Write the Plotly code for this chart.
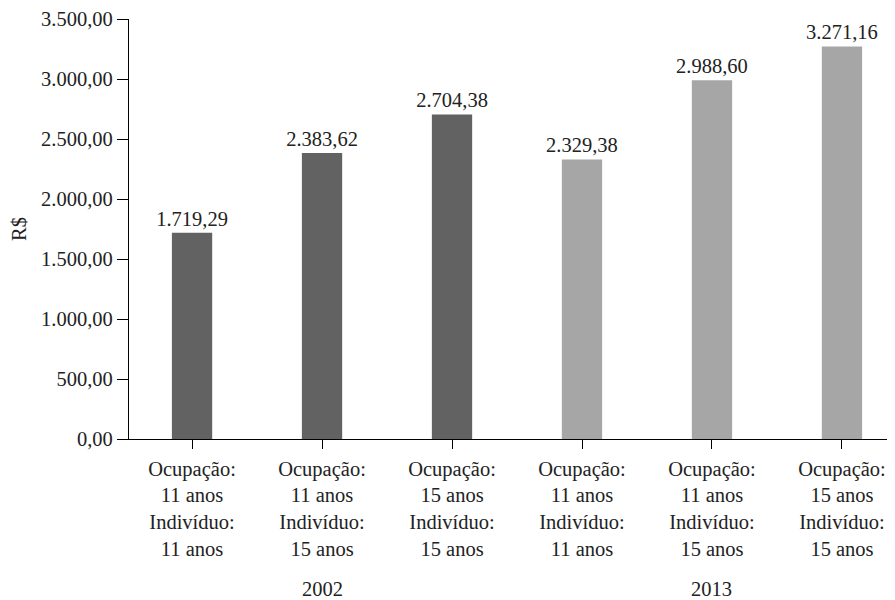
import plotly.graph_objects as go

categories = [
    "Ocupação:<br>11 anos<br>Indivíduo:<br>11 anos",
    "Ocupação:<br>11 anos<br>Indivíduo:<br>15 anos",
    "Ocupação:<br>15 anos<br>Indivíduo:<br>15 anos",
    "Ocupação:<br>11 anos<br>Indivíduo:<br>11 anos",
    "Ocupação:<br>11 anos<br>Indivíduo:<br>15 anos",
    "Ocupação:<br>15 anos<br>Indivíduo:<br>15 anos",
]
values = [1719.29, 2383.62, 2704.38, 2329.38, 2988.60, 3271.16]
years = ["2002", "2002", "2002", "2013", "2013", "2013"]
year_labels = ["2002", "2013"]
y_ticks = [0, 500, 1000, 1500, 2000, 2500, 3000, 3500]

DARK = "#626262"
LIGHT = "#a6a6a6"
FONT = "Liberation Serif"
FS = 20.5
TXT = "#222222"


def br(v):
    s = f"{v:,.2f}"
    return s.replace(",", "X").replace(".", ",").replace("X", ".")


xs = list(range(len(values)))
colors = [DARK if y == "2002" else LIGHT for y in years]

fig = go.Figure(
    go.Bar(
        x=xs,
        y=values,
        width=0.31,
        marker=dict(color=colors, line=dict(width=0)),
        text=[br(v) for v in values],
        textposition="outside",
        constraintext="none",
        textfont=dict(family=FONT, size=FS, color=TXT),
        cliponaxis=False,
    )
)

# year group labels
for yl in year_labels:
    idx = [i for i, y in enumerate(years) if y == yl]
    fig.add_annotation(
        x=sum(idx) / len(idx), y=0, xref="x", yref="paper",
        text=yl, showarrow=False, yanchor="middle", yshift=-150,
        font=dict(family=FONT, size=FS, color=TXT),
    )

# page body has an 8px margin, so the figure is 8px smaller and shifted
fig.update_layout(
    width=887, height=592,
    margin=dict(l=121, r=0, t=11, b=161, autoexpand=False),
    plot_bgcolor="white", paper_bgcolor="white",
    showlegend=False,
    font=dict(family=FONT, size=FS, color=TXT),
    xaxis=dict(
        range=[-0.485, 5.408],
        tickvals=xs, ticktext=categories,
        showline=True, linecolor="black", linewidth=1.3,
        ticks="outside", ticklen=9, tickcolor="black", tickwidth=1.3,
        showgrid=False, zeroline=False, automargin=False,
        tickfont=dict(family=FONT, size=FS, color=TXT),
        ticklabelstandoff=2,
    ),
    yaxis=dict(
        range=[0, 3500],
        tickvals=y_ticks, ticktext=[br(v) for v in y_ticks],
        showline=True, linecolor="black", linewidth=1.3,
        ticks="outside", ticklen=11, tickcolor="black", tickwidth=1.3,
        showgrid=False, zeroline=False, automargin=False,
        tickfont=dict(family=FONT, size=FS, color=TXT),
        title=dict(text="R$", font=dict(family=FONT, size=FS, color=TXT), standoff=8),
    ),
)

fig.write_html("out.html")
